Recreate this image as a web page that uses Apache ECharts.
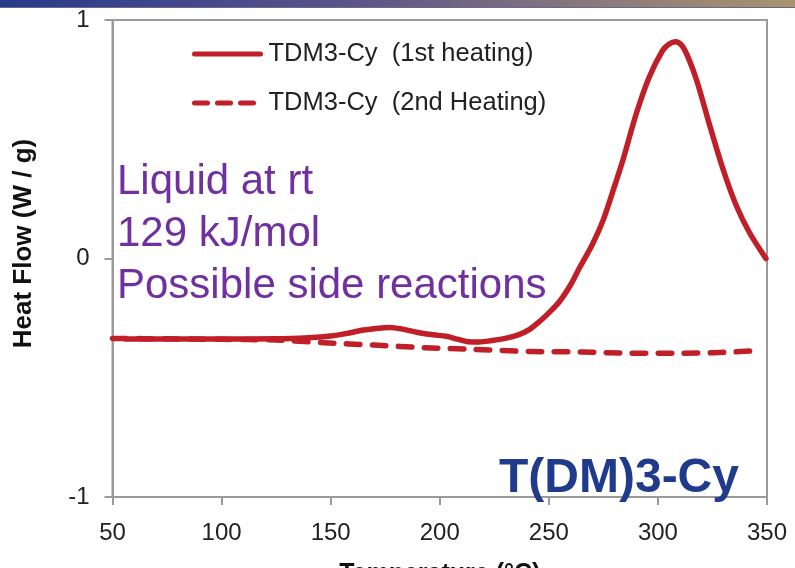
<!DOCTYPE html>
<html>
<head>
<meta charset="utf-8">
<script src="https://cdn.jsdelivr.net/npm/echarts@6/dist/echarts.min.js"></script>
<style>
  html, body { margin: 0; padding: 0; background: #ffffff; }
  #chart { width: 795px; height: 568px; }
</style>
</head>
<body>
<div id="chart"></div>
<script>
// DSC traces of TDM3-Cy: heat flow (W/g) against temperature (°C)
const firstHeatingT = [56, 75, 100, 125, 140, 150, 157, 165, 172, 177, 183, 190, 197, 203, 208, 213, 218, 224, 230, 236, 241, 246, 250, 255, 260, 264, 270, 275, 280, 284, 290, 296, 302, 305, 308, 311, 314, 318, 324, 330, 336, 342, 349.5];
const firstHeatingHF = [-0.338, -0.338, -0.338, -0.337, -0.332, -0.325, -0.315, -0.300, -0.292, -0.289, -0.296, -0.310, -0.320, -0.326, -0.338, -0.349, -0.350, -0.344, -0.335, -0.320, -0.298, -0.262, -0.228, -0.179, -0.110, -0.040, 0.060, 0.163, 0.300, 0.414, 0.605, 0.760, 0.870, 0.898, 0.909, 0.893, 0.840, 0.740, 0.550, 0.370, 0.220, 0.108, 0.000];

const secondHeatingT = [50, 75, 100, 125, 147, 170, 193, 216, 242, 265, 288, 311, 326, 342];
const secondHeatingHF = [-0.335, -0.337, -0.339, -0.342, -0.353, -0.363, -0.374, -0.381, -0.390, -0.392, -0.397, -0.397, -0.395, -0.388];

const seriesNames = ['TDM3-Cy  (1st heating)', 'TDM3-Cy  (2nd Heating)'];
const xTicks = { min: 50, max: 350, step: 50 };
const yTicks = { min: -1, max: 1, step: 1 };
const noteLines = ['Liquid at rt', '129 kJ/mol', 'Possible side reactions'];
const sampleLabel = 'T(DM)3-Cy';

const pairs = (xs, ys) => xs.map((x, i) => [x, ys[i]]);

const RED = '#C01F28';
const FONT = '"Liberation Sans", Arial, Helvetica, sans-serif';
const AXIS_GRAY = '#9A9A9A';

const chart = echarts.init(document.getElementById('chart'), null, { renderer: 'canvas' });

const dashPattern = [13.5, 12.5];
const hiddenMarker = { color: 'transparent', borderWidth: 0, opacity: 0 };

chart.setOption({
  animation: false,
  backgroundColor: '#ffffff',
  textStyle: { fontFamily: FONT },
  grid: {
    left: 112.5, right: 28, top: 20, bottom: 71,
    show: true, borderColor: AXIS_GRAY, borderWidth: 2,
    containLabel: false, outerBoundsMode: 'none'
  },
  legend: {
    orient: 'vertical',
    left: 192, top: 41, padding: 0,
    itemWidth: 66, itemHeight: 22, itemGap: 23,
    textStyle: { fontFamily: FONT, fontSize: 25.5, color: '#222222', padding: [0, 0, 0, 3] },
    data: [
      { name: seriesNames[0], itemStyle: hiddenMarker, lineStyle: { width: 5, type: 'solid', cap: 'round' } },
      { name: seriesNames[1], itemStyle: hiddenMarker, lineStyle: { width: 5, type: [13, 10], cap: 'round' } }
    ]
  },
  xAxis: {
    type: 'value',
    min: xTicks.min, max: xTicks.max, interval: xTicks.step,
    name: 'Temperature (°C)',
    nameLocation: 'middle', nameGap: 65,
    nameTextStyle: { fontFamily: FONT, fontSize: 25, fontWeight: 'bold', color: '#111111' },
    axisLine: { show: true, onZero: false, lineStyle: { color: AXIS_GRAY, width: 2 } },
    axisTick: { show: true, length: 8, inside: false, lineStyle: { color: AXIS_GRAY, width: 2 } },
    axisLabel: { fontFamily: FONT, fontSize: 24, color: '#222222', margin: 24 },
    splitLine: { show: false }
  },
  yAxis: {
    type: 'value',
    min: yTicks.min, max: yTicks.max, interval: yTicks.step,
    name: 'Heat Flow (W / g)',
    nameLocation: 'middle', nameGap: 76, nameRotate: 90,
    nameTextStyle: { fontFamily: FONT, fontSize: 26, fontWeight: 'bold', color: '#111111', padding: [0, 0, 0, 30] },
    axisLine: { show: true, onZero: false, lineStyle: { color: AXIS_GRAY, width: 2 } },
    axisTick: { show: true, length: 8, inside: false, lineStyle: { color: AXIS_GRAY, width: 2 } },
    axisLabel: { fontFamily: FONT, fontSize: 24, color: '#222222', margin: 23 },
    splitLine: { show: false }
  },
  series: [
    {
      name: seriesNames[1],
      type: 'line',
      data: pairs(secondHeatingT, secondHeatingHF),
      symbol: 'none',
      smooth: 0.3,
      lineStyle: { color: RED, width: 5.5, type: dashPattern, cap: 'round', join: 'round' },
      itemStyle: { color: RED },
      z: 2
    },
    {
      name: seriesNames[0],
      type: 'line',
      data: pairs(firstHeatingT, firstHeatingHF),
      symbol: 'none',
      smooth: 0.3,
      lineStyle: { color: RED, width: 5.5, type: 'solid', cap: 'round', join: 'round' },
      itemStyle: { color: RED },
      z: 3
    }
  ],
  graphic: [
    {
      type: 'rect', left: 0, top: 0, z: 10,
      shape: { width: 795, height: 7 },
      style: {
        fill: new echarts.graphic.LinearGradient(0, 0, 1, 0, [
          { offset: 0, color: '#283A8C' },
          { offset: 0.45, color: '#5C5588' },
          { offset: 0.75, color: '#8A7A7C' },
          { offset: 1, color: '#A8946C' }
        ])
      }
    },
    {
      type: 'rect', left: 0, top: 7, z: 10,
      shape: { width: 795, height: 1 },
      style: { fill: '#6C6590' }
    },
    {
      type: 'text', left: 117, top: 161, z: 10,
      style: { text: noteLines[0], font: '42px ' + FONT, fill: '#7030A0', verticalAlign: 'middle' }
    },
    {
      type: 'text', left: 117, top: 213, z: 10,
      style: { text: noteLines[1], font: '42px ' + FONT, fill: '#7030A0', verticalAlign: 'middle' }
    },
    {
      type: 'text', left: 117, top: 265, z: 10,
      style: { text: noteLines[2], font: '42px ' + FONT, fill: '#7030A0', verticalAlign: 'middle' }
    },
    {
      type: 'text', left: 499, top: 455, z: 10,
      style: { text: sampleLabel, font: 'bold 48px ' + FONT, fill: '#213B8C', verticalAlign: 'middle' }
    }
  ]
});
</script>
</body>
</html>
